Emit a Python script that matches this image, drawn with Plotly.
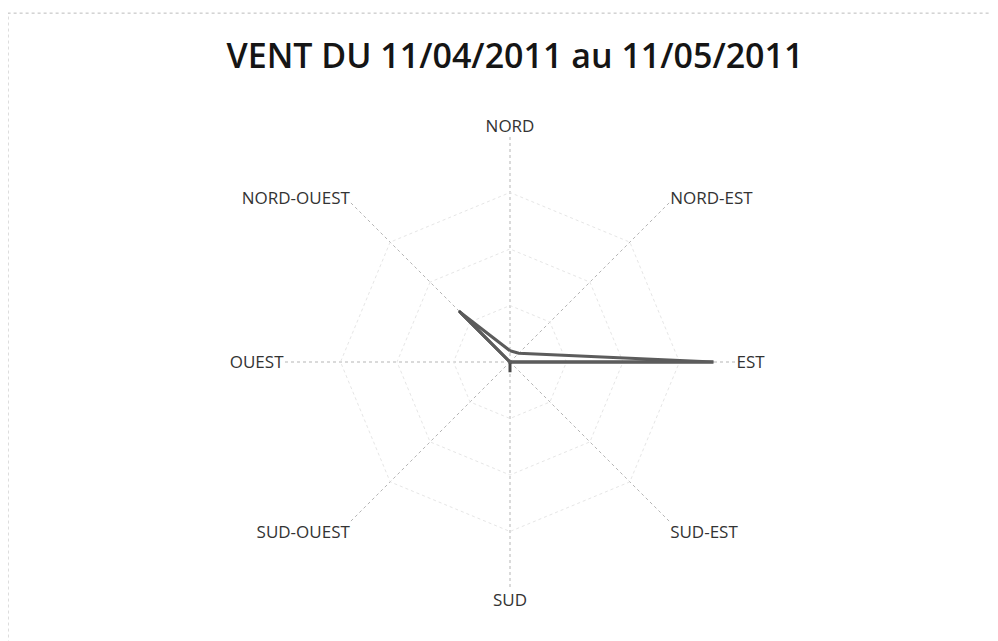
import plotly.graph_objects as go

directions = ["NORD", "NORD-EST", "EST", "SUD-EST", "SUD", "SUD-OUEST", "OUEST", "NORD-OUEST"]
serie_1 = [0.0, 0.0, 9.0, 0.0, 0.45, 0.0, 0.0, 3.2]
serie_2 = [0.5, 0.55, 9.0, 0.0, 0.0, 0.0, 0.0, 3.1]
title_text = "VENT DU 11/04/2011 au 11/05/2011"
r_max = 10

fig = go.Figure()
for vals, col in [(serie_1, "#4a4a4a"), (serie_2, "#5c5c5c")]:
    fig.add_trace(go.Scatterpolar(
        r=vals + vals[:1], theta=directions + directions[:1],
        mode="lines", line=dict(color=col, width=3), showlegend=False,
    ))

cx, cy, R = 502, 354, 226
fig.update_layout(
    width=998, height=641,
    margin=dict(l=0, r=0, t=0, b=0),
    paper_bgcolor="white",
    font=dict(family="Open Sans", color="#333"),
    title=dict(text=title_text, x=0.508, xanchor="center", y=0.925, yanchor="middle",
               font=dict(family="Open Sans", size=34, color="#151515", weight=600)),
    polar=dict(
        domain=dict(x=[(cx - R) / 998, (cx + R) / 998], y=[1 - (cy + R) / 641, 1 - (cy - R) / 641]),
        bgcolor="white",
        gridshape="linear",
        angularaxis=dict(direction="clockwise", rotation=90, showline=False,
                         gridcolor="#b5b5b5", griddash="dot", gridwidth=1,
                         tickfont=dict(size=17, color="#333"), ticks=""),
        radialaxis=dict(range=[0, r_max], showticklabels=False, ticks="", showline=False,
                        gridcolor="#e6e6e6", griddash="dot", dtick=2.5),
    ),
    shapes=[dict(type="rect", xref="paper", yref="paper", x0=0.0, x1=1.02, y0=-0.02, y1=0.992,
                 line=dict(color="#bbb", width=1, dash="dot"))],
)
fig.write_html("out.html")
